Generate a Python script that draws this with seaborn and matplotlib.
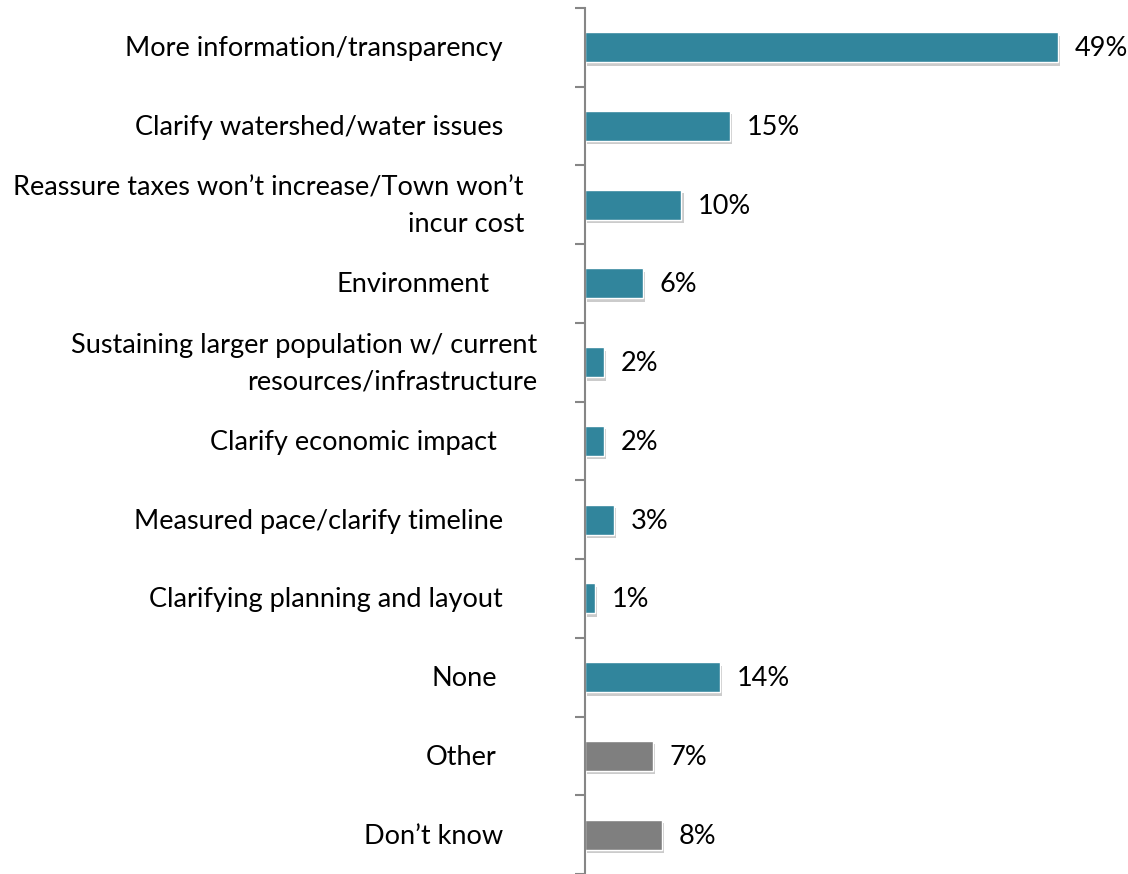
import matplotlib
matplotlib.use("Agg")
import matplotlib.pyplot as plt
import matplotlib.patheffects as pe
import matplotlib.transforms as mtransforms
import seaborn as sns
import pandas as pd

categories = [
    "More information/transparency",
    "Clarify watershed/water issues",
    "Reassure taxes won\u2019t increase/Town won\u2019t\nincur cost",
    "Environment",
    "Sustaining larger population w/ current\nresources/infrastructure",
    "Clarify economic impact",
    "Measured pace/clarify timeline",
    "Clarifying planning and layout",
    "None",
    "Other",
    "Don\u2019t know",
]
values = [49, 15, 10, 6, 2, 2, 3, 1, 14, 7, 8]
value_labels = ["49%", "15%", "10%", "6%", "2%", "2%", "3%", "1%", "14%", "7%", "8%"]
groups = ["main"] * 9 + ["other"] * 2
# right edge of each category label, in pixels left of the axis line
label_gap = [82, 82, 61, 95, 48, 88, 82, 82, 88, 88, 82]

sns.set_theme(style="white")
plt.rcParams['font.family'] = ['Lato', 'DejaVu Sans']
plt.rcParams['text.color'] = 'black'

df = pd.DataFrame({"cat": categories, "val": values, "grp": groups})

fig = plt.figure(figsize=(11.28, 8.74), dpi=100)
ax = fig.add_axes([0.5186, 0.0, 0.456, 0.991])

sns.barplot(data=df, y="cat", x="val", hue="grp",
            palette={"main": "#31859C", "other": "#7F7F7F"},
            dodge=False, width=0.38, legend=False, ax=ax, saturation=1,
            edgecolor="white", linewidth=1.0)

for p in ax.patches:
    p.set_path_effects([pe.SimplePatchShadow(offset=(1.5, -2.5), shadow_rgbFace="#8c8c8c", alpha=0.45), pe.Normal()])

for i, (v, lab) in enumerate(zip(values, value_labels)):
    ax.annotate(lab, xy=(v, i), xytext=(12, -1), textcoords="offset points",
                va="center", ha="left", fontsize=19.5, color="black")

trans = mtransforms.blended_transform_factory(ax.transAxes, ax.transData)
for i, (cat, gap) in enumerate(zip(categories, label_gap)):
    ax.annotate(cat, xy=(0, i), xycoords=trans, xytext=(-gap * 0.72, -1),
                textcoords="offset points", ha="right", va="center",
                multialignment="right", linespacing=1.55,
                fontsize=19.5, color="black")

ax.set_xlim(0, 53.3)
ax.set_ylim(len(categories) - 0.5, -0.5)
ax.set_xlabel("")
ax.set_ylabel("")
ax.set_xticks([])
ax.set_yticks([i - 0.5 for i in range(len(categories) + 1)])
ax.set_yticklabels([])
ax.tick_params(axis="y", which="major", length=7, width=1.5, color="#868686", left=True)

for s in ["top", "right", "bottom"]:
    ax.spines[s].set_visible(False)
ax.spines["left"].set_color("#868686")
ax.spines["left"].set_linewidth(1.5)

fig.savefig("out.png", dpi=100)
